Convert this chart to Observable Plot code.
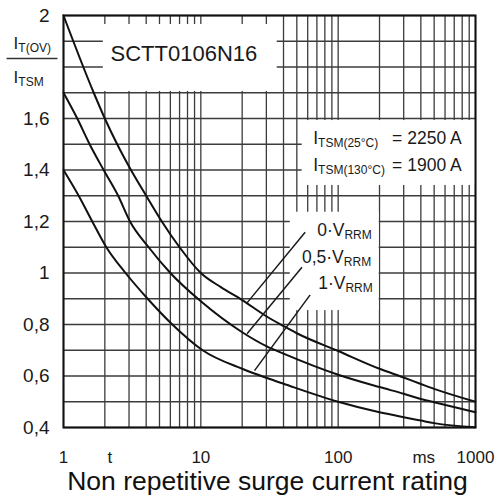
<!DOCTYPE html>
<html><head><meta charset="utf-8">
<script src="https://cdn.jsdelivr.net/npm/d3@7"></script>
<script src="https://cdn.jsdelivr.net/npm/@observablehq/plot@0.6"></script>
<style>body{margin:0;background:#fff;}</style>
</head><body><div id="chart"></div>
<script>
// ---- data ----
const tTop = [1, 1.66, 2, 2.46, 3.1, 4, 5.2, 7.0, 10, 14, 20, 30, 40, 50, 100, 200, 300, 400, 500, 1000];
const vTop = [2.0, 1.7, 1.6, 1.5, 1.4, 1.3, 1.2, 1.1, 1.0, 0.945, 0.895, 0.832, 0.794, 0.766, 0.697, 0.628, 0.594, 0.569, 0.550, 0.500];
const tMid = [1, 1.26, 1.55, 1.96, 2.5, 3.05, 4.17, 6.0, 10, 20, 30, 40, 100, 200, 300, 400, 500, 1000];
const vMid = [1.7, 1.6, 1.5, 1.4, 1.3, 1.2, 1.1, 1.0, 0.89, 0.77, 0.716, 0.687, 0.605, 0.557, 0.531, 0.511, 0.498, 0.459];
const tLow = [1, 1.29, 1.62, 2.05, 2.83, 4.1, 6.2, 10.3, 20, 30, 40, 100, 200, 300, 400, 500, 1000];
const vLow = [1.4, 1.3, 1.2, 1.1, 1.0, 0.9, 0.8, 0.7, 0.628, 0.593, 0.57, 0.5, 0.459, 0.44, 0.427, 0.417, 0.401];
const seriesNames = ["0·VRRM", "0,5·VRRM", "1·VRRM"];

const gridT = [1,2,3,4,5,6,7,8,9,10,20,30,40,50,60,70,80,90,100,200,300,400,500,600,700,800,900,1000];
const gridV = [0.4,0.5,0.6,0.7,0.8,0.9,1.0,1.1,1.2,1.3,1.4,1.5,1.6,1.7,1.8,1.9,2.0];
const xTicks = [1, 10, 100, 1000];
const xTickLabels = ["1", "10", "100", "1000"];
const unitT = [2.18, 420];
const unitLabels = ["t", "ms"];
const yTicks = [0.4, 0.6, 0.8, 1, 1.2, 1.4, 1.6, 2];
const yTickLabels = ["0,4", "0,6", "0,8", "1", "1,2", "1,4", "1,6", "2"];

// label boxes that knock out the grid (data units)
const boxX1 = [1.95, 54.7, 44.8];
const boxX2 = [36, 1000, 199];
const boxY1 = [1.705, 1.34, 0.854];
const boxY2 = [1.965, 1.592, 1.236];

// leader lines from labels to curves (data units)
const leadT1 = [57.5, 54.5, 62.5];
const leadV1 = [1.158, 1.0225, 0.915];
const leadT2 = [21.7, 21.7, 24.6];
const leadV2 = [0.884, 0.764, 0.621];

const annText = ["SCTT0106N16", "I_{TSM(25°C)}", "= 2250 A", "I_{TSM(130°C)}", "= 1900 A",
  "0·V_{RRM}", "0,5·V_{RRM}", "1·V_{RRM}", "I_{T(OV)}", "I_{TSM}"];
const annT = [2.2, 65.8, 247, 65.8, 247, 70.3, 54.5, 71.5, 0.433, 0.433];
const annV = [1.852, 1.522, 1.522, 1.4175, 1.4175, 1.165, 1.061, 0.959, 1.891, 1.759];
const annSize = [22, 17.5, 17.5, 17.5, 17.5, 17.5, 17.5, 17.5, 17, 17];

const title = "Non repetitive surge current rating";

// ---- build tables ----
const rows = [
  ...tTop.map((t, i) => ({s: seriesNames[0], t, v: vTop[i]})),
  ...tMid.map((t, i) => ({s: seriesNames[1], t, v: vMid[i]})),
  ...tLow.map((t, i) => ({s: seriesNames[2], t, v: vLow[i]}))
];
const boxes = boxX1.map((x1, i) => ({x1, x2: boxX2[i], y1: boxY1[i], y2: boxY2[i]}));
const leaders = leadT1.map((x1, i) => ({x1, y1: leadV1[i], x2: leadT2[i], y2: leadV2[i]}));
const ann = annText.map((text, i) => ({text, t: annT[i], v: annV[i], size: annSize[i]}));
const units = unitT.map((t, i) => ({t, text: unitLabels[i]}));
const fracLine = [{x1: 0.385, x2: 0.904, y: 1.833}];

const chart = Plot.plot({
  width: 498, height: 499,
  marginLeft: 63, marginRight: 23, marginTop: 15, marginBottom: 72,
  style: {fontFamily: "'Liberation Sans', Arial, sans-serif", fontSize: "17px", color: "#1a1a1a", background: "#fff"},
  x: {type: "log", domain: [1, 1000]},
  y: {domain: [0.4, 2]},
  marks: [
    Plot.ruleX(gridT, {stroke: "#3c3c3c", strokeWidth: 1.3}),
    Plot.ruleY(gridV, {stroke: "#3c3c3c", strokeWidth: 1.3}),
    Plot.rect(boxes, {x1: "x1", x2: "x2", y1: "y1", y2: "y2", fill: "white"}),
    Plot.frame({stroke: "#111", strokeWidth: 2}),
    Plot.line(rows, {x: "t", y: "v", z: "s", curve: "monotone-x", stroke: "#111", strokeWidth: 2}),
    Plot.link(leaders, {x1: "x1", y1: "y1", x2: "x2", y2: "y2", stroke: "#1a1a1a", strokeWidth: 1.5}),
    Plot.link(fracLine, {x1: "x1", x2: "x2", y1: "y", y2: "y", stroke: "#333", strokeWidth: 1.3}),
    Plot.text(ann, {x: "t", y: "v", text: "text", fontSize: "size", textAnchor: "start", fill: "#1a1a1a"}),
    Plot.axisX({ticks: xTicks, tickFormat: (d) => xTickLabels[xTicks.indexOf(d)], tickSize: 0, tickPadding: 23, fontSize: 17, label: null}),
    Plot.text(units, {x: "t", text: "text", frameAnchor: "bottom", lineAnchor: "top", dy: 23, fontSize: 17, fill: "#1a1a1a"}),
    Plot.axisY({ticks: yTicks, tickFormat: (d) => yTickLabels[yTicks.indexOf(d)], tickSize: 0, tickPadding: 14, fontSize: 19, label: null}),
    Plot.text([title], {text: (d) => d, frameAnchor: "bottom", lineAnchor: "middle", dy: 54, dx: -2, fontSize: 26.5, fill: "#111"})
  ]
});

// subscripts: turn "_{...}" into smaller, lowered tspans
const NS = "http://www.w3.org/2000/svg";
d3.select(chart).selectAll("text").each(function() {
  const s = this.textContent;
  if (!s.includes("_{")) return;
  const parts = s.split(/(_\{[^}]*\})/).filter(p => p);
  this.textContent = "";
  let shifted = false;
  for (const p of parts) {
    const ts = document.createElementNS(NS, "tspan");
    if (p.startsWith("_{")) {
      ts.textContent = p.slice(2, -1);
      ts.setAttribute("font-size", "12");
      ts.setAttribute("dy", "3");
      shifted = true;
    } else {
      ts.textContent = p;
      if (shifted) { ts.setAttribute("dy", "-3"); shifted = false; }
    }
    this.appendChild(ts);
  }
});

document.getElementById("chart").appendChild(chart);
</script>
</body></html>
